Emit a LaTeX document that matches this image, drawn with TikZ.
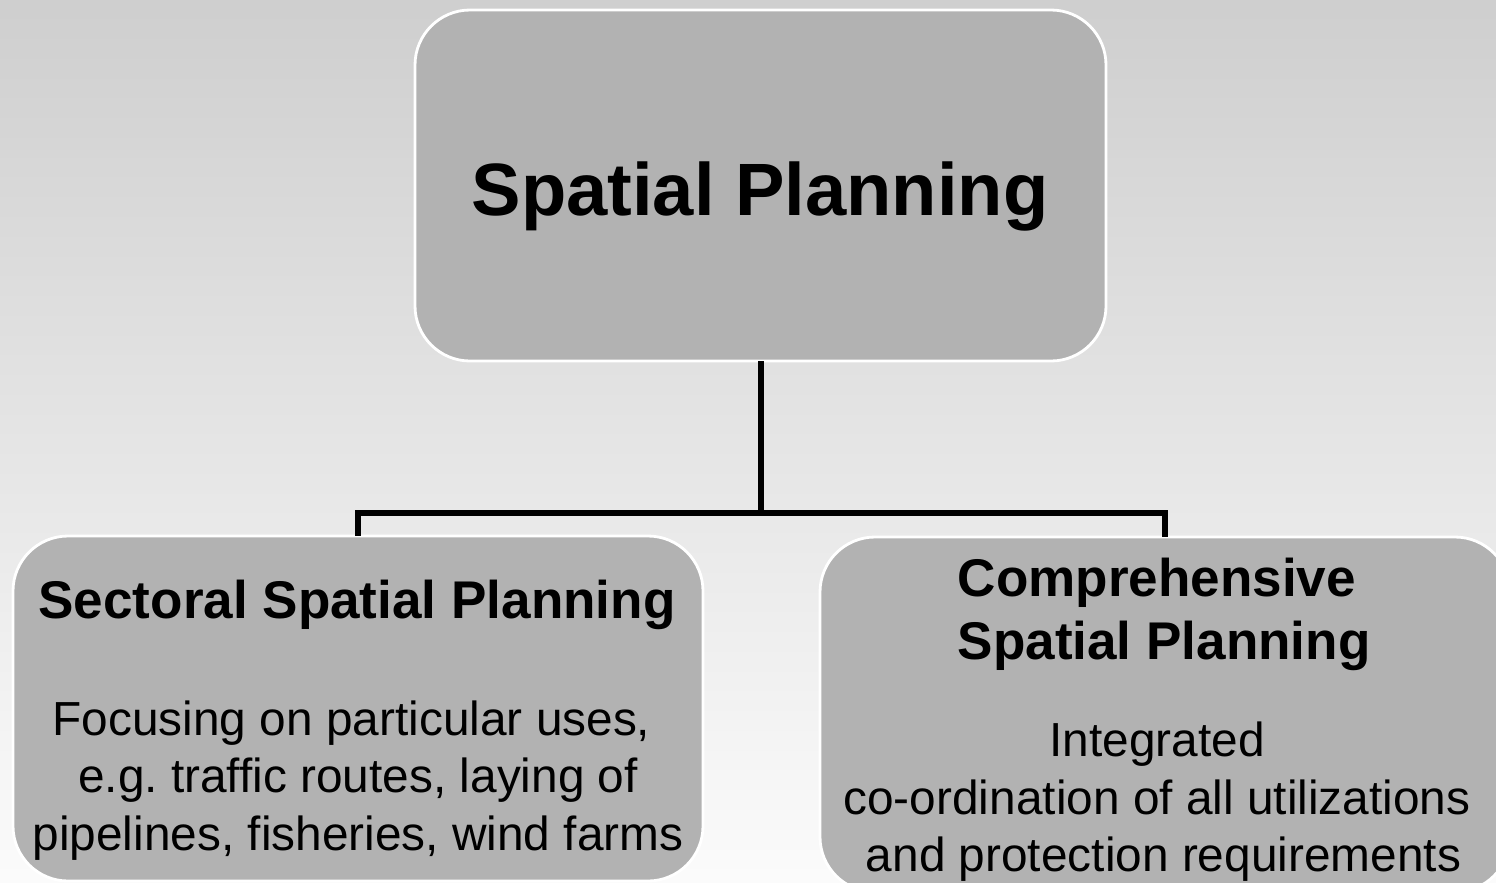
\documentclass[tikz,border=0pt]{standalone}
\usepackage{fontspec}
\setmainfont{Liberation Sans}
\usetikzlibrary{calc, positioning}

\definecolor{bgtop}{gray}{0.81}
\definecolor{bgbottom}{gray}{0.985}
\definecolor{boxgray}{gray}{0.70}

\begin{document}
\begin{tikzpicture}[
    planbox/.style={draw=white, line width=0.8pt, fill=boxgray, rounded corners=0.55cm,
      inner sep=0pt, outer sep=0pt, minimum width=6.9cm},
    bigtitle/.style={font=\fontsize{21.1pt}{25pt}\selectfont\bfseries, inner sep=0pt},
    subtitle/.style={font=\fontsize{15.1pt}{17.9pt}\selectfont\bfseries, inner sep=0pt},
    bodytext/.style={font=\fontsize{13.6pt}{16.35pt}\selectfont, align=center, inner sep=0pt},
    link/.style={line width=1.7pt, black}
  ]
% Background
\useasboundingbox (0,0) rectangle (14.96,8.82);
\clip (0,0) rectangle (14.96,8.82);
\shade[top color=bgtop, bottom color=bgbottom] (0,0) rectangle (14.96,8.82);
% Top box
\node[planbox, minimum width=6.91cm, minimum height=3.51cm] (spatial) at (7.605,6.965) {};
\node[bigtitle, anchor=base] (spatialtitle) at (7.60,6.67) {Spatial Planning};
% Lower boxes
\node[planbox, minimum height=3.45cm] (sectoral) at (3.58,1.735) {};
\node[planbox, minimum height=3.55cm] (compr) at (11.65,1.675) {};
% Connectors
\draw[link] (spatial.south) -- ++(0,-1.52) coordinate (fork);
\draw[link] (fork) -| (sectoral.north);
\draw[link] (fork) -| (compr.north);
% Sectoral texts
\node[subtitle, anchor=base] (sectoraltitle) at (3.57,2.64) {Sectoral Spatial Planning};
\node[bodytext] (sectoralbody) at (3.58,1.015)
  {Focusing on particular uses,\hspace*{0.13cm}\\ e.g.\ traffic routes, laying of\hspace*{0.13cm}\\
   pipelines, fisheries, wind farms};
% Comprehensive texts
\node[subtitle, anchor=west, align=left] (comprtitle) at (9.57,2.675)
  {Comprehensive\\Spatial Planning};
\node[bodytext] (comprbody) at (11.57,0.80)
  {Integrated\\ co-ordination of all utilizations\\ \hspace*{0.13cm}and protection requirements};
\end{tikzpicture}
\end{document}
